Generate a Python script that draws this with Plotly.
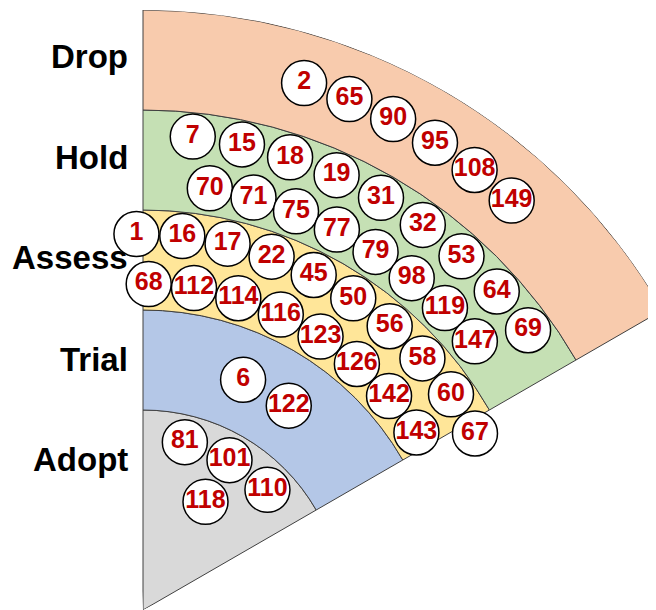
import math
import plotly.graph_objects as go

# rings, innermost first
rings = ["Adopt", "Trial", "Assess", "Hold", "Drop"]
ring_inner = [0, 200, 300, 400, 500]
ring_outer = [200, 300, 400, 500, 600]
ring_colors = ["#D9D9D9", "#B4C7E7", "#FFE699", "#C5E0B4", "#F8CBAD"]

# blips: id, radius, angle (deg)
blip_ids = [2, 65, 90, 95, 108, 149,
            7, 15, 18, 19, 31, 32, 53, 64, 69,
            70, 71, 75, 77, 79, 98, 119, 147,
            1, 16, 17, 22, 45, 50, 56, 58, 60, 67,
            68, 112, 114, 116, 123, 126, 142, 143,
            6, 122,
            81, 101, 110, 118]
blip_r = [551, 551, 551, 551, 551, 551,
          476, 476, 476, 476, 476, 476, 476, 476, 476,
          427, 427, 427, 427, 427, 427, 427, 427,
          376, 376, 376, 376, 376, 376, 376, 376, 376, 376,
          326, 326, 326, 326, 326, 326, 326, 326,
          251, 251,
          173, 173, 173, 125]
blip_theta = [73, 68, 63, 58, 53, 48,
              84, 78, 72, 66, 60, 54, 48, 42, 36,
              81, 75, 69, 63, 57, 51, 45, 39,
              91, 84, 77, 70, 63, 56, 49, 42, 35, 28,
              89, 81, 73, 65, 57, 49, 41, 33,
              66.5, 54.5,
              76, 60, 44, 60]

# page has an 8px body margin; the figure is a bit wider than the window
# so the outer ring gets cut at the right edge like the original
OFF = 8
W, H = 690, 620
R = 600                      # px for the full radial range
cx, cy = 143 - OFF, 610 - OFF  # wedge apex inside the figure
sector = [26, 93]
bx0 = math.cos(math.radians(sector[1]))
bx1 = math.cos(math.radians(sector[0]))
dom_x = [(cx + bx0 * R) / W, (cx + bx1 * R) / W]
dom_y = [(H - cy) / H, (H - cy + R) / H]

fig = go.Figure()

fig.add_trace(go.Barpolar(
    r=[o - i for i, o in zip(ring_inner, ring_outer)],
    base=ring_inner,
    theta=[60] * len(rings),
    width=[60] * len(rings),
    marker=dict(color=ring_colors, line=dict(color="#404040", width=1)),
    hoverinfo="skip",
))

fig.add_trace(go.Scatterpolar(
    r=blip_r, theta=blip_theta,
    mode="markers+text",
    text=[str(i) for i in blip_ids],
    textposition="middle center",
    marker=dict(size=45, color="white", line=dict(color="black", width=1.5)),
    textfont=dict(family="Liberation Sans, Arial", size=25, color="#C00000", weight="bold"),
    cliponaxis=False,
    hoverinfo="text",
))

label_y = [451, 351, 249.5, 149, 49]  # px from top of figure
for name, yp in zip(rings, label_y):
    fig.add_annotation(
        text=name, xref="paper", yref="paper",
        x=(130 - OFF) / W, y=1 - yp / H, xanchor="right", yanchor="middle",
        showarrow=False,
        font=dict(family="Liberation Sans, Arial", size=33, color="black", weight="bold"),
    )

fig.update_layout(
    width=W, height=H,
    margin=dict(l=0, r=0, t=0, b=0),
    paper_bgcolor="white",
    showlegend=False,
    polar=dict(
        sector=sector,
        domain=dict(x=dom_x, y=dom_y),
        bgcolor="rgba(0,0,0,0)",
        bargap=0,
        radialaxis=dict(range=[0, R], visible=False),
        angularaxis=dict(visible=False, rotation=0, direction="counterclockwise"),
    ),
)

fig.write_html("out.html")
